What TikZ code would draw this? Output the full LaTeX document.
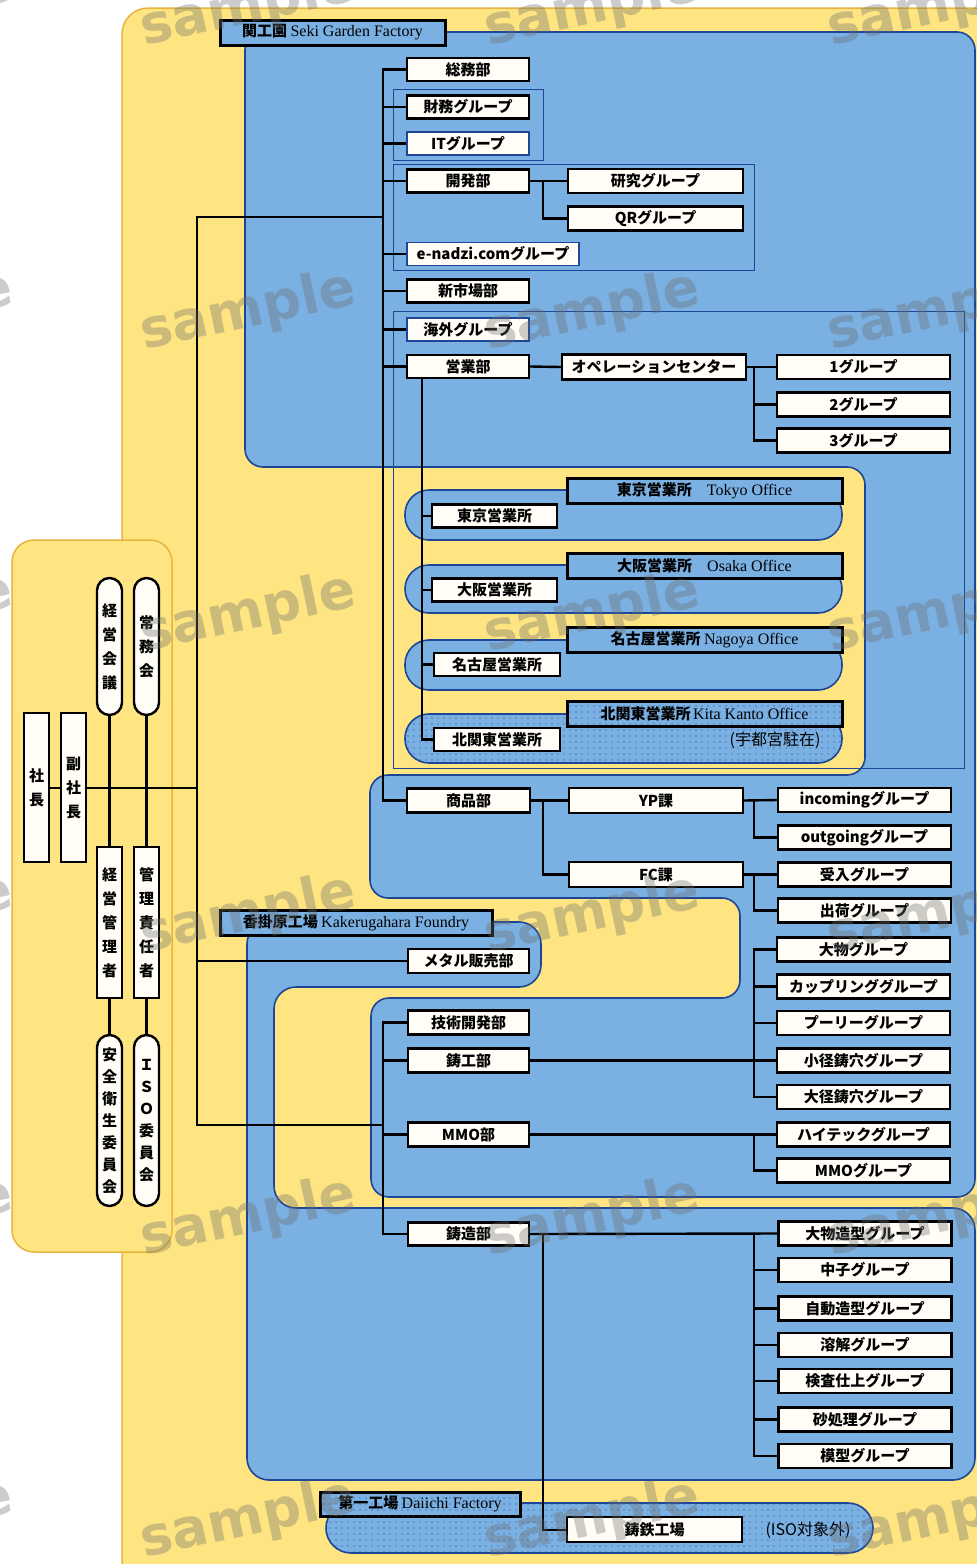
\documentclass[tikz,border=0pt]{standalone}
\usepackage{fontspec}
\setmainfont{Noto Sans CJK JP}
\newfontfamily\enf{Liberation Serif}
\newfontfamily\wmf{DejaVu Sans}
\usetikzlibrary{patterns.meta}
\pgfdeclarelayer{regions}
\pgfdeclarelayer{lines}
\pgfdeclarelayer{wmark}
\pgfsetlayers{regions,lines,main,wmark}
\definecolor{yel}{RGB}{254,229,130}
\definecolor{yelb}{RGB}{232,180,60}
\definecolor{blu}{RGB}{122,176,226}
\definecolor{blub}{RGB}{30,70,150}
\definecolor{boxw}{RGB}{255,253,246}
\definecolor{wmc}{RGB}{110,110,110}
\tikzset{
 bx/.style={draw=black, line width=2.4pt, fill=boxw, inner sep=0pt, text=black, font=\bfseries\fontsize{15}{16}\selectfont},
 dept/.style={bx, minimum width=122pt, minimum height=23pt},
 grp/.style={bx, minimum width=173pt, minimum height=24pt},
 midb/.style={bx, minimum width=175pt, minimum height=24pt},
 ofc/.style={bx, minimum width=125pt, minimum height=23pt},
 thinb/.style={draw=blub, line width=1.4pt},
 hdr/.style={draw=black, line width=3pt, fill=blu, inner sep=0pt, minimum height=25pt, text=black, font=\bfseries\fontsize{15}{16}\selectfont},
 vbox/.style={bx, minimum width=25pt, align=center, font=\bfseries\fontsize{15}{24}\selectfont},
 pill/.style={vbox, rounded corners=12.5pt},
 conn/.style={draw=black, line width=2.4pt},
 connt/.style={draw=black, line width=2pt},
 breg/.style={fill=blu, draw=blub, line width=1.6pt, rounded corners=18pt},
 outl/.style={draw=blub, line width=0.8pt},
 dotfill/.style={pattern={Dots[radius=0.7pt,distance=6pt]}, pattern color=blub},
 wm/.style={font=\wmf\bfseries\fontsize{54}{54}\selectfont, text=wmc, opacity=0.35, rotate=12},
}
\newcommand{\en}[1]{{\mdseries\enf\fontsize{16}{16}\selectfont #1}}
\begin{document}
\begin{tikzpicture}[x=1pt,y=-1pt]
\useasboundingbox (0,0) rectangle (977,1564);

% ---------------- nodes ----------------
% Seki Garden Factory
\node[hdr, minimum width=225pt] (hseki) at (332.5,32.5) {関工園\ \en{Seki Garden Factory}};
\node[dept] (somu) at (468,69.5) {総務部};
\node[dept] (zaimu) at (468,107) {財務グループ};
\node[dept,thinb] (it) at (468,143.5) {ITグループ};
\node[dept] (kaihatsu) at (468,181) {開発部};
\node[midb] (kenkyu) at (655.5,181) {研究グループ};
\node[midb] (qr) at (655.5,218.5) {QRグループ};
\node[bx,thinb,minimum width=172pt,minimum height=23pt] (enadzi) at (493,254) {e-nadzi.comグループ};
\node[dept] (shinshijo) at (468,291) {新市場部};
\node[dept,thinb] (kaigai) at (468,329.5) {海外グループ};
\node[dept] (eigyo) at (468,366.5) {営業部};
\node[bx,minimum width=184pt,minimum height=25pt] (ope) at (654,367) {オペレーションセンター};
\node[grp] (g1) at (863.5,367) {1グループ};
\node[grp] (g2) at (863.5,404.5) {2グループ};
\node[grp] (g3) at (863.5,440.5) {3グループ};

% offices
\node[hdr, minimum width=275pt] (htokyo) at (704.5,490.5) {東京営業所\quad\en{Tokyo Office}};
\node[hdr, minimum width=275pt] (hosaka) at (704.5,566) {大阪営業所\quad\en{Osaka Office}};
\node[hdr, minimum width=275pt] (hnagoya) at (704.5,640) {名古屋営業所\ \en{Nagoya Office}};
\node[hdr, minimum width=275pt, postaction={dotfill}] (hkita) at (704.5,713.5) {北関東営業所\,\en{Kita Kanto Office}};
\node[ofc] (tokyo) at (494.5,516) {東京営業所};
\node[ofc] (osaka) at (494.5,590) {大阪営業所};
\node[ofc, minimum width=126pt] (nagoya) at (497,664.5) {名古屋営業所};
\node[ofc, minimum width=126pt] (kita) at (497,739.5) {北関東営業所};
\node[font=\fontsize{16}{16}\selectfont] (utsu) at (775,740) {(宇都宮駐在)};

% shohin
\node[dept, minimum width=123pt, minimum height=24pt] (shohin) at (468.5,800.5) {商品部};
\node[bx, minimum width=174pt, minimum height=25pt] (yp) at (656,800.5) {YP課};
\node[bx, minimum width=174pt, minimum height=25pt] (fc) at (656,874.5) {FC課};
\node[grp] (inc) at (864.5,800) {incomingグループ};
\node[grp] (outg) at (864.5,837.5) {outgoingグループ};
\node[grp] (ukeire) at (864.5,874.5) {受入グループ};
\node[grp] (shukka) at (864.5,910.5) {出荷グループ};

% foundry
\node[hdr, minimum width=272pt] (hkake) at (356,922.5) {香掛原工場\ \en{Kakerugahara Foundry}};
\node[dept, minimum width=121pt, minimum height=24pt] (metal) at (468.5,961) {メタル販売部};
\node[dept, minimum width=121pt, minimum height=24pt] (gikai) at (468.5,1022.5) {技術開発部};
\node[dept, minimum width=121pt, minimum height=24pt] (chuko) at (468.5,1060.5) {鋳工部};
\node[dept, minimum width=121pt, minimum height=24pt] (mmo) at (468.5,1134.5) {MMO部};
\node[grp] (omono) at (863.5,949.5) {大物グループ};
\node[grp] (coup) at (863.5,986.5) {カップリンググループ};
\node[grp] (puri) at (863.5,1023) {プーリーグループ};
\node[grp] (shokei) at (863.5,1060.5) {小径鋳穴グループ};
\node[grp] (daikei) at (863.5,1097) {大径鋳穴グループ};
\node[grp] (hitec) at (863.5,1134.5) {ハイテックグループ};
\node[grp] (mmog) at (863.5,1170.5) {MMOグループ};
\node[dept, minimum width=121pt] (chuzo) at (468.5,1234) {鋳造部};
\node[grp] (omozo) at (865,1233.5) {大物造型グループ};
\node[grp] (nakago) at (865,1270) {中子グループ};
\node[grp] (jido) at (865,1308.5) {自動造型グループ};
\node[grp] (yokai) at (865,1345) {溶解グループ};
\node[grp] (kensa) at (865,1381) {検査仕上グループ};
\node[grp] (suna) at (865,1419.5) {砂処理グループ};
\node[grp] (mokei) at (865,1456) {模型グループ};

% bottom factory
\node[hdr, minimum width=200pt, minimum height=24pt, postaction={dotfill}] (hdai) at (420,1504) {第一工場\ \en{Daiichi Factory}};
\node[bx, minimum width=175pt, minimum height=25pt] (chutetsu) at (654.5,1529.5) {鋳鉄工場};
\node[font=\fontsize{16}{16}\selectfont] (isogai) at (808,1530) {(ISO対象外)};

% left panel
\node[vbox, minimum height=149pt] (shacho) at (36.5,787.5) {社\\長};
\node[vbox, minimum height=149pt] (fuku) at (73.5,787.5) {副\\社\\長};
\node[pill, minimum height=137pt] (keikai) at (109.5,646.5) {経\\営\\会\\議};
\node[pill, minimum height=137pt] (jomu) at (146.5,646.5) {常\\務\\会};
\node[vbox, minimum height=151pt] (keikan) at (109.5,922.5) {経\\営\\管\\理\\者};
\node[vbox, minimum height=151pt] (kanri) at (146.5,922.5) {管\\理\\責\\任\\者};
\node[pill, minimum height=171pt, font=\bfseries\fontsize{15}{22}\selectfont] (anzen) at (109.5,1120.5) {安\\全\\衛\\生\\委\\員\\会};
\node[pill, minimum height=171pt, font=\bfseries\fontsize{15}{22}\selectfont] (iso) at (146.5,1120.5) {Ｉ\\Ｓ\\Ｏ\\委\\員\\会};

% ---------------- regions ----------------
\begin{pgfonlayer}{regions}
\begin{scope}
\clip (0,0) rectangle (977,1564);
\fill[white] (0,0) rectangle (977,1564);
\path[fill=yel, draw=yelb, line width=1.5pt, rounded corners=26pt] (122,8) rectangle (1010,1600);
\path[fill=yel, draw=yelb, line width=1.5pt, rounded corners=22pt] (12,540) rectangle (172,1252);
\path[breg] (245,32) -- (975,32) -- (975,1197) -- (371,1197) -- (371,998) -- (740,998) -- (740,898) -- (370,898) -- (370,775) -- (865,775) -- (865,467) -- (245,467) -- cycle;
\path[breg, rounded corners=22pt] (247,922) -- (541,922) -- (541,987) -- (274,987) -- (274,1208) -- (975,1208) -- (975,1480) -- (247,1480) -- cycle;
\path[breg, rounded corners=24pt] (405,490) rectangle (842,540);
\path[breg, rounded corners=24pt] (405,565) rectangle (842,613);
\path[breg, rounded corners=24pt] (405,640) rectangle (842,690);
\path[breg, rounded corners=24pt, postaction={dotfill}] (405,714) rectangle (842,763);
\path[breg, rounded corners=25pt, postaction={dotfill}] (326,1503) rectangle (873,1553);
\draw[outl] (393,89) rectangle (543,160);
\draw[outl] (393,164) rectangle (754,270);
\draw[outl] (393,311) rectangle (964,768);
\end{scope}
\end{pgfonlayer}

% ---------------- connectors ----------------
\begin{pgfonlayer}{lines}
\coordinate (trA) at (383,0);
\coordinate (trL) at (197,0);
\coordinate (b1) at (543,0);
\coordinate (b2) at (754,0);
\coordinate (b3) at (422,0);
\coordinate (jA) at (197,217);
\coordinate (jA2) at (383,217);
\coordinate (jB) at (197,1125);
\coordinate (jB2) at (383,1125);
% president line
\draw[connt] (shacho.east) -- (shacho.east -| trL);
\draw[connt] (jA2) -- (jA) -- (jB) -- (jB2);
\draw[connt] (metal.west) -- (metal.west -| trL);
\draw[conn] (keikai.south) -- (anzen.north);
\draw[conn] (jomu.south) -- (iso.north);
% Seki trunk
\draw[conn] (somu.west) -| (shohin.west -| trA) -- (shohin.west);
\foreach \n in {zaimu,it,kaihatsu,enadzi,shinshijo,kaigai,eigyo}
  \draw[conn] (\n.west) -- (\n.west -| trA);
\draw[conn] (kaihatsu.east) -- (kenkyu.west);
\draw[conn] (qr.west) -| (kaihatsu.east -| b1);
\draw[conn] (eigyo.east) -- (ope.west);
\draw[conn] (ope.east) -- (g1.west);
\draw[conn] (g3.west) -| (ope.east -| b2);
\draw[conn] (g2.west) -- (g2.west -| b2);
\draw[conn] (eigyo.south -| b3) |- (kita.west);
\foreach \n in {tokyo,osaka,nagoya}
  \draw[conn] (\n.west) -- (\n.west -| b3);
\draw[conn] (shohin.east) -- (yp.west);
\draw[conn] (fc.west) -| (shohin.east -| b1);
\draw[conn] (yp.east) -- (inc.west);
\draw[conn] (outg.west) -| (yp.east -| b2);
\draw[conn] (fc.east) -- (ukeire.west);
\draw[conn] (shukka.west) -| (fc.east -| b2);
% foundry trunk
\draw[conn] (gikai.west) -| (chuzo.west -| trA) -- (chuzo.west);
\foreach \n in {chuko,mmo}
  \draw[conn] (\n.west) -- (\n.west -| trA);
\draw[conn] (chuko.east) -- (shokei.west);
\draw[conn] (omono.west) -| (daikei.west -| b2) -- (daikei.west);
\foreach \n in {coup,puri}
  \draw[conn] (\n.west) -- (\n.west -| b2);
\draw[conn] (mmo.east) -- (hitec.west);
\draw[conn] (mmog.west) -| (hitec.west -| b2);
\draw[conn] (chuzo.east) -- (omozo.west);
\draw[conn] (mokei.west) -| (omozo.west -| b2);
\foreach \n in {nakago,jido,yokai,kensa,suna}
  \draw[conn] (\n.west) -- (\n.west -| b2);
\draw[connt] (chutetsu.west) -| (chuzo.east -| b1);
\end{pgfonlayer}

% ---------------- watermarks ----------------
\begin{pgfonlayer}{wmark}
\begin{scope}
\clip (0,0) rectangle (977,1564);
\foreach \yy in {8,312,614,915,1218,1520}
  \foreach \xx in {-95,248,592,935}
    \node[wm] (w\xx\yy) at (\xx,\yy) {sample};
\end{scope}
\end{pgfonlayer}
\end{tikzpicture}
\end{document}
